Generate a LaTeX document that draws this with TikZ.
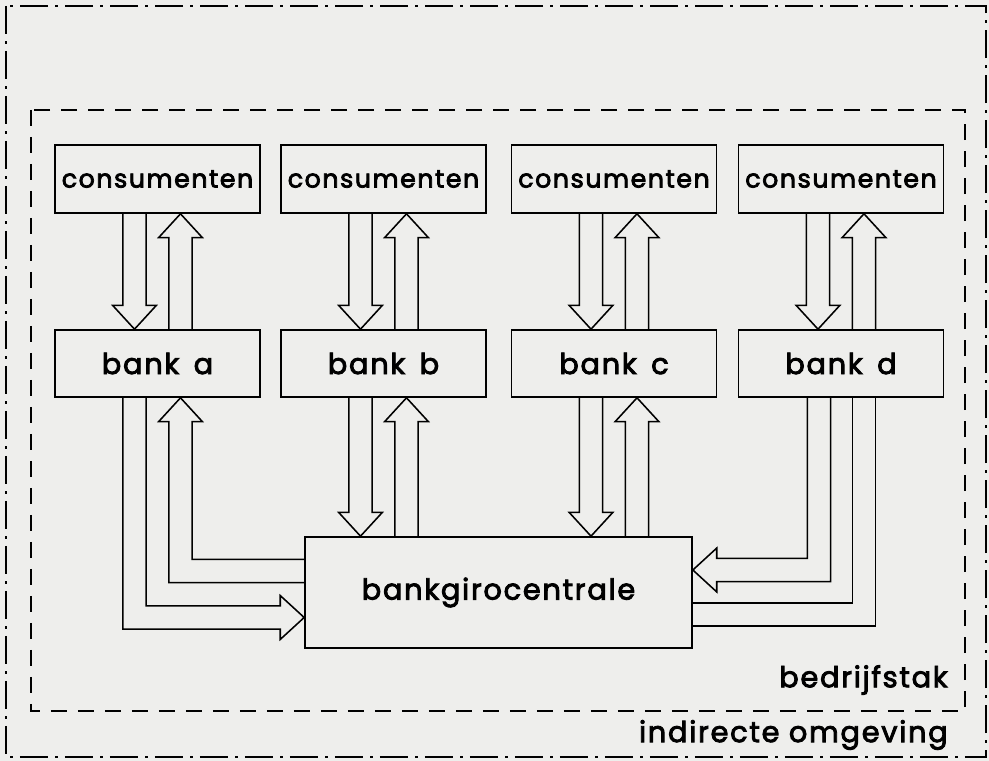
\documentclass[tikz,border=0pt]{standalone}
\usepackage{fontspec}
\setmainfont{Poppins}
\newfontfamily\lblfont[FakeBold=3, LetterSpace=6]{Poppins}
\usetikzlibrary{calc}
\definecolor{paper}{RGB}{238,238,236}
% vertical fat arrow: x offset, from, to
\newcommand{\fatv}[3]{%
  \draw[fat] let \p1=($(#2)+(#1,0)$), \p2=($(#3)+(#1,0)$), \p3=($(\p2)!17pt!(\p1)$) in
    (\x1-8.2pt,\y1) -- (\x1-8.2pt,\y3) -- (\x1-15.6pt,\y3) -- (\x1,\y2)
    -- (\x1+15.6pt,\y3) -- (\x1+8.2pt,\y3) -- (\x1+8.2pt,\y1);}
\begin{document}
\begin{tikzpicture}[x=0.025cm, y=-0.025cm,
    box/.style={draw, line width=1.1pt, inner sep=0pt, minimum width=145.8pt, font=\lblfont\fontsize{18}{20}\selectfont},
    fat/.style={line width=1.1pt, line join=miter},
    label/.style={inner sep=0pt, anchor=east, font=\lblfont\fontsize{20.5}{22}\selectfont}]
    \useasboundingbox (0,0) rectangle (989,761);
    \fill[paper] (0,0) rectangle (989,761);
    % frames
    \draw[line width=1.2pt, dash pattern=on 20pt off 5pt on 2pt off 5pt] (6,6) rectangle (986,757);
    \draw[line width=1.1pt, dash pattern=on 11.4pt off 7.8pt] (31,110) rectangle (965,711);
    % consumers and banks
    \node[box, minimum height=48.4pt] (c1) at (157.5,179) {consumenten};
    \node[box, minimum height=48.4pt] (c2) at (383.5,179) {consumenten};
    \node[box, minimum height=48.4pt] (c3) at (614,179) {consumenten};
    \node[box, minimum height=48.4pt] (c4) at (841,179) {consumenten};
    \node[box, minimum height=47.7pt, font=\lblfont\fontsize{20.5}{22}\selectfont] (b1) at (157.5,363.5) {bank\hspace{0.5em}a};
    \node[box, minimum height=47.7pt, font=\lblfont\fontsize{20.5}{22}\selectfont] (b2) at (383.5,363.5) {bank\hspace{0.5em}b};
    \node[box, minimum height=47.7pt, font=\lblfont\fontsize{20.5}{22}\selectfont] (b3) at (614,363.5) {bank\hspace{0.5em}c};
    \node[box, minimum height=47.7pt, font=\lblfont\fontsize{20.5}{22}\selectfont] (b4) at (841,363.5) {bank\hspace{0.5em}d};
    \node[box, minimum width=275.3pt, minimum height=79pt, font=\lblfont\fontsize{20.5}{22}\selectfont] (gc) at (498.5,592.5) {bankgirocentrale};
    \node[label] (stak) at (948,680) {bedrijfstak};
    \node[label] (omg) at (948,735) {indirecte omgeving};
    % consumers <-> banks
    \foreach \i in {1,...,4} {
        \fatv{-23}{c\i.south}{b\i.north}
        \fatv{23}{b\i.north}{c\i.south}
    }
    % banks b and c <-> centrale
    \foreach \i in {2,3} {
        \fatv{-23}{b\i.south}{b\i.south |- gc.north}
        \fatv{23}{b\i.south |- gc.north}{b\i.south}
    }
    % bank a <-> centrale
    \draw[fat] let \p1=($(b1.south)+(-23,0)$), \p2=($(gc.west)+(0,25)$) in
        (\x1-8.2pt,\y1) |- (\x2-17pt,\y2-8.2pt) -- (\x2-17pt,\y2-15.6pt) -- (\p2)
        -- (\x2-17pt,\y2+15.6pt) -- (\x2-17pt,\y2+8.2pt) -| (\x1+8.2pt,\y1);
    \draw[fat] let \p1=($(b1.south)+(23,0)$), \p2=($(gc.west)+(0,-21.5)$) in
        (\x2,\y2-8.2pt) -| (\x1-8.2pt,\y1-17pt) -- (\x1-15.6pt,\y1-17pt) -- (\p1)
        -- (\x1+15.6pt,\y1-17pt) -- (\x1+8.2pt,\y1-17pt) |- (\x2,\y2+8.2pt);
    % bank d <-> centrale
    \draw[fat] let \p1=($(b4.south)+(-22,0)$), \p2=($(gc.east)+(0,-22.5)$) in
        (\x1+8.2pt,\y1) |- (\x2+17pt,\y2-8.2pt) -- (\x2+17pt,\y2-15.6pt) -- (\p2)
        -- (\x2+17pt,\y2+15.6pt) -- (\x2+17pt,\y2+8.2pt) -| (\x1-8.2pt,\y1);
    \draw[fat] let \p1=($(b4.south)+(23,0)$), \p2=($(gc.east)+(0,22)$) in
        (\x2,\y2+8.2pt) -| (\x1-8.2pt,\y1) (\x1+8.2pt,\y1) |- (\x2,\y2-8.2pt);
\end{tikzpicture}
\end{document}
